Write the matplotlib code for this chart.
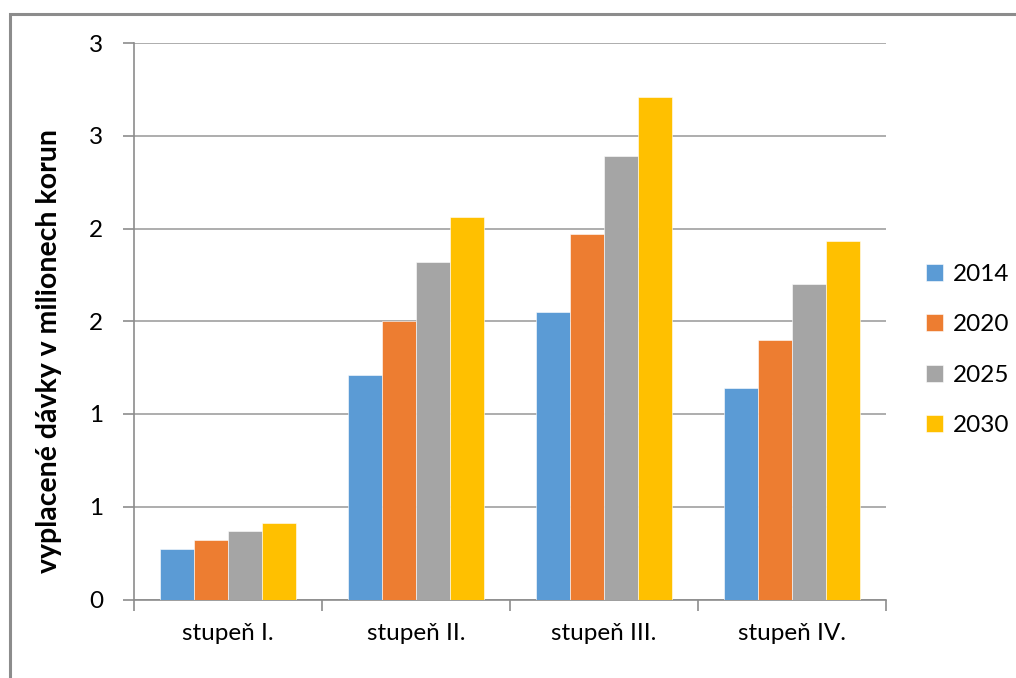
import matplotlib.pyplot as plt
import numpy as np
from matplotlib.patches import Rectangle

plt.rcParams["font.family"] = ["Lato", "DejaVu Sans"]

categories = ["stupeň I.", "stupeň II.", "stupeň III.", "stupeň IV."]
years = ["2014", "2020", "2025", "2030"]
values_2014 = [0.27, 1.21, 1.55, 1.14]
values_2020 = [0.32, 1.50, 1.97, 1.40]
values_2025 = [0.37, 1.82, 2.39, 1.70]
values_2030 = [0.41, 2.06, 2.71, 1.93]
series = [values_2014, values_2020, values_2025, values_2030]
colors = ["#5B9BD5", "#ED7D31", "#A5A5A5", "#FFC000"]

ytick_values = [0, 0.5, 1.0, 1.5, 2.0, 2.5, 3.0]
ytick_labels = ["0", "1", "1", "2", "2", "3", "3"]
ylabel = "vyplacené dávky v milionech korun"

W, H = 1016, 678
fs = 17.5
fig = plt.figure(figsize=(W / 100, H / 100), dpi=100)
ax = fig.add_axes([134 / W, 1 - 599.5 / H, 752 / W, 556.5 / H])

# outer chart frame (right and bottom edges fall outside the picture)
fig.patches.append(Rectangle((10 / W, -0.05), 1.1, 1 - 13.5 / H + 0.05,
                             transform=fig.transFigure, fill=False,
                             edgecolor="#8C8C8C", linewidth=2.2))

x = np.arange(len(categories))
bar_w = 0.181
for i, (vals, col, yr) in enumerate(zip(series, colors, years)):
    ax.bar(x + (i - 1.5) * bar_w, vals, width=bar_w, color=col,
           edgecolor="white", linewidth=0.4, label=yr, zorder=3)

ax.set_xlim(-0.5, len(categories) - 0.5)
ax.set_ylim(0, 3)
ax.set_yticks(ytick_values)
ax.set_yticklabels(ytick_labels)
ax.set_xticks(x)
ax.set_xticklabels(categories)
ax.set_xticks(np.arange(len(categories) + 1) - 0.5, minor=True)

ax.grid(axis="y", color="#A0A0A0", linewidth=1.2, zorder=0)
for s in ["top", "right"]:
    ax.spines[s].set_visible(False)
ax.spines["left"].set_color("#8C8C8C")
ax.spines["bottom"].set_color("#8C8C8C")
ax.spines["left"].set_linewidth(1.2)
ax.spines["bottom"].set_linewidth(1.2)

ax.tick_params(axis="y", length=8, width=1.2, color="#8C8C8C",
               labelsize=fs, pad=14)
ax.tick_params(axis="x", which="major", length=0, labelsize=fs, pad=17)
ax.tick_params(axis="x", which="minor", length=8, width=1.2, color="#8C8C8C")

ax.set_ylabel(ylabel, fontsize=20.5, fontweight="bold")
ax.yaxis.set_label_coords(-0.0957, 0.447)

ax.legend(loc="center left", bbox_to_anchor=(904 / W, 1 - 350 / H),
          bbox_transform=fig.transFigure, frameon=False, fontsize=fs,
          handlelength=0.7, handleheight=0.7, handletextpad=0.4,
          labelspacing=1.2)

fig.savefig("out.png", dpi=100)
